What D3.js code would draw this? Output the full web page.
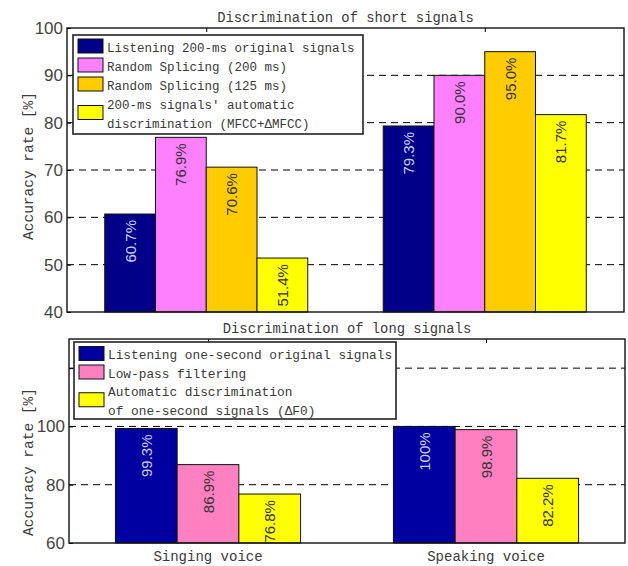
<!DOCTYPE html>
<html>
<head>
<meta charset="utf-8">
<script src="https://cdn.jsdelivr.net/npm/d3@7"></script>
<style>
  html, body { margin: 0; padding: 0; background: #fff; }
  svg { display: block; }
</style>
</head>
<body>
<svg id="chart" width="628" height="566"></svg>
<script>
// ---- data ----
const categories = ["Singing voice", "Speaking voice"];

const shortTitle = "Discrimination of short signals";
const shortSeries = [
  ["Listening 200-ms original signals"],
  ["Random Splicing (200 ms)"],
  ["Random Splicing (125 ms)"],
  ["200-ms signals' automatic", "discrimination (MFCC+ΔMFCC)"]
];
const shortColors = ["#000088", "#ff80ff", "#ffcc00", "#ffff00"];
const shortSinging = [60.7, 76.9, 70.6, 51.4];
const shortSpeaking = [79.3, 90.0, 95.0, 81.7];
const shortTicks = [40, 50, 60, 70, 80, 90, 100];

const longTitle = "Discrimination of long signals";
const longSeries = [
  ["Listening one-second original signals"],
  ["Low-pass filtering"],
  ["Automatic discrimination", "of one-second signals (ΔF0)"]
];
const longColors = ["#0000a0", "#ff80c0", "#ffff00"];
const longSinging = [99.3, 86.9, 76.8];
const longSpeaking = [100, 98.9, 82.2];
const longTicks = [60, 80, 100, 120];
const longTickLabels = ["60", "80", "100", ""];

// ---- drawing ----
const svg = d3.select("#chart");
const monoFont = "'Liberation Mono', 'DejaVu Sans Mono', monospace";
const sansFont = "'Liberation Sans', Arial, sans-serif";
const textColor = "#3a3a3a";

function fmt(v) {
  return (v === 100 ? "100" : v.toFixed(1)) + "%";
}

function drawPanel(cfg) {
  const g = svg.append("g");
  const x = d3.scaleLinear().domain([0.5, 2.5]).range([cfg.left, cfg.right]);
  const y = d3.scaleLinear().domain(cfg.yDomain).range([cfg.bottom, cfg.top]);
  const nSeries = cfg.colors.length;
  const barW = (x(1.5) - x(0.5)) * cfg.groupFrac / nSeries;

  // dashed grid
  g.append("g").selectAll("line")
    .data(cfg.grid)
    .join("line")
    .attr("x1", cfg.left).attr("x2", cfg.right)
    .attr("y1", d => y(d)).attr("y2", d => y(d))
    .attr("stroke", "#000").attr("stroke-width", 1)
    .attr("stroke-dasharray", "7,5");

  // left axis with inward ticks
  const yAxis = d3.axisLeft(y)
    .tickValues(cfg.ticks)
    .tickSize(-4)
    .tickPadding(4)
    .tickFormat((d, i) => cfg.tickLabels[i]);
  const ax = g.append("g").attr("transform", `translate(${cfg.left},0)`).call(yAxis);
  ax.select(".domain").remove();
  ax.selectAll("line").attr("stroke", "#000");
  ax.selectAll("text")
    .attr("font-family", sansFont).attr("font-size", 17)
    .attr("fill", "#444");

  // top axis ticks at category centres
  const xAxisTop = d3.axisTop(x).tickValues([1, 2]).tickSize(-4).tickFormat("");
  const axt = g.append("g").attr("transform", `translate(0,${cfg.top})`).call(xAxisTop);
  axt.select(".domain").remove();
  axt.selectAll("line").attr("stroke", "#000");

  // bars
  const rows = [cfg.singing, cfg.speaking];
  rows.forEach((vals, ci) => {
    const cx = x(ci + 1);
    const start = cx - barW * nSeries / 2;
    const bg = g.append("g");
    bg.selectAll("rect")
      .data(vals)
      .join("rect")
      .attr("x", (d, i) => start + i * barW)
      .attr("width", barW)
      .attr("y", d => y(d))
      .attr("height", d => y(cfg.yDomain[0]) - y(d))
      .attr("fill", (d, i) => cfg.colors[i])
      .attr("stroke", "#111").attr("stroke-width", 1);
    bg.selectAll("text")
      .data(vals)
      .join("text")
      .attr("transform", (d, i) =>
        `translate(${start + i * barW + barW / 2},${y(d) + 6}) rotate(-90)`)
      .attr("text-anchor", "end")
      .attr("dominant-baseline", "central")
      .attr("font-family", sansFont).attr("font-size", 15)
      .attr("fill", (d, i) => i === 0 ? "#d0d0ff" : "#333")
      .text(d => fmt(d));
  });

  // frame
  g.append("rect")
    .attr("x", cfg.left).attr("y", cfg.top)
    .attr("width", cfg.right - cfg.left).attr("height", cfg.bottom - cfg.top)
    .attr("fill", "none").attr("stroke", "#111").attr("stroke-width", 1.4);

  // title
  g.append("text")
    .attr("x", (cfg.left + cfg.right) / 2).attr("y", cfg.titleY)
    .attr("text-anchor", "middle")
    .attr("font-family", monoFont).attr("font-size", 13.8)
    .attr("fill", textColor)
    .text(cfg.title);

  // y label
  g.append("text")
    .attr("transform", `translate(${cfg.ylabX},${cfg.ylabY}) rotate(-90)`)
    .attr("text-anchor", "middle")
    .attr("dominant-baseline", "central")
    .attr("font-family", monoFont).attr("font-size", 14.5)
    .attr("fill", textColor)
    .text("Accuracy rate [%]");

  // category labels
  if (cfg.showCategories) {
    g.append("g").selectAll("text")
      .data(categories)
      .join("text")
      .attr("x", (d, i) => x(i + 1))
      .attr("y", cfg.catY)
      .attr("text-anchor", "middle")
      .attr("font-family", monoFont).attr("font-size", 14)
      .attr("fill", textColor)
      .text(d => d);
  }

  // legend
  const L = cfg.legend;
  const lg = g.append("g");
  lg.append("rect")
    .attr("x", L.x).attr("y", L.y).attr("width", L.w).attr("height", L.h)
    .attr("fill", "#fff").attr("stroke", "#222").attr("stroke-width", 1.6);
  let lineIdx = 0;
  cfg.series.forEach((lines, si) => {
    const baselines = lines.map(() => L.firstBaseline + (lineIdx++) * L.lineStep);
    const centre = d3.mean(baselines) - 5.5;
    lg.append("rect")
      .attr("x", L.x + 5).attr("y", centre - 7)
      .attr("width", 25).attr("height", 14)
      .attr("fill", cfg.colors[si]).attr("stroke", "#111").attr("stroke-width", 1);
    lines.forEach((t, k) => {
      lg.append("text")
        .attr("x", L.x + 34).attr("y", baselines[k])
        .attr("font-family", monoFont).attr("font-size", L.fontSize)
        .attr("fill", textColor)
        .text(t);
    });
  });
}

drawPanel({
  left: 67, right: 624, top: 28, bottom: 312,
  yDomain: [40, 100],
  ticks: shortTicks,
  tickLabels: shortTicks.map(String),
  grid: [50, 60, 70, 80, 90],
  groupFrac: 0.729,
  colors: shortColors,
  series: shortSeries,
  singing: shortSinging,
  speaking: shortSpeaking,
  title: shortTitle, titleY: 22,
  ylabX: 29, ylabY: 166,
  showCategories: false,
  legend: { x: 73, y: 35, w: 290, h: 99, firstBaseline: 51.5, lineStep: 19, fontSize: 12.5 }
});

drawPanel({
  left: 69, right: 625, top: 339, bottom: 543,
  yDomain: [60, 130],
  ticks: longTicks,
  tickLabels: longTickLabels,
  grid: [80, 100, 120],
  groupFrac: 0.666,
  colors: longColors,
  series: longSeries,
  singing: longSinging,
  speaking: longSpeaking,
  title: longTitle, titleY: 333,
  ylabX: 29, ylabY: 462,
  showCategories: true, catY: 561,
  legend: { x: 74, y: 342, w: 322, h: 77, firstBaseline: 359, lineStep: 18.5, fontSize: 12.8 }
});
</script>
</body>
</html>
